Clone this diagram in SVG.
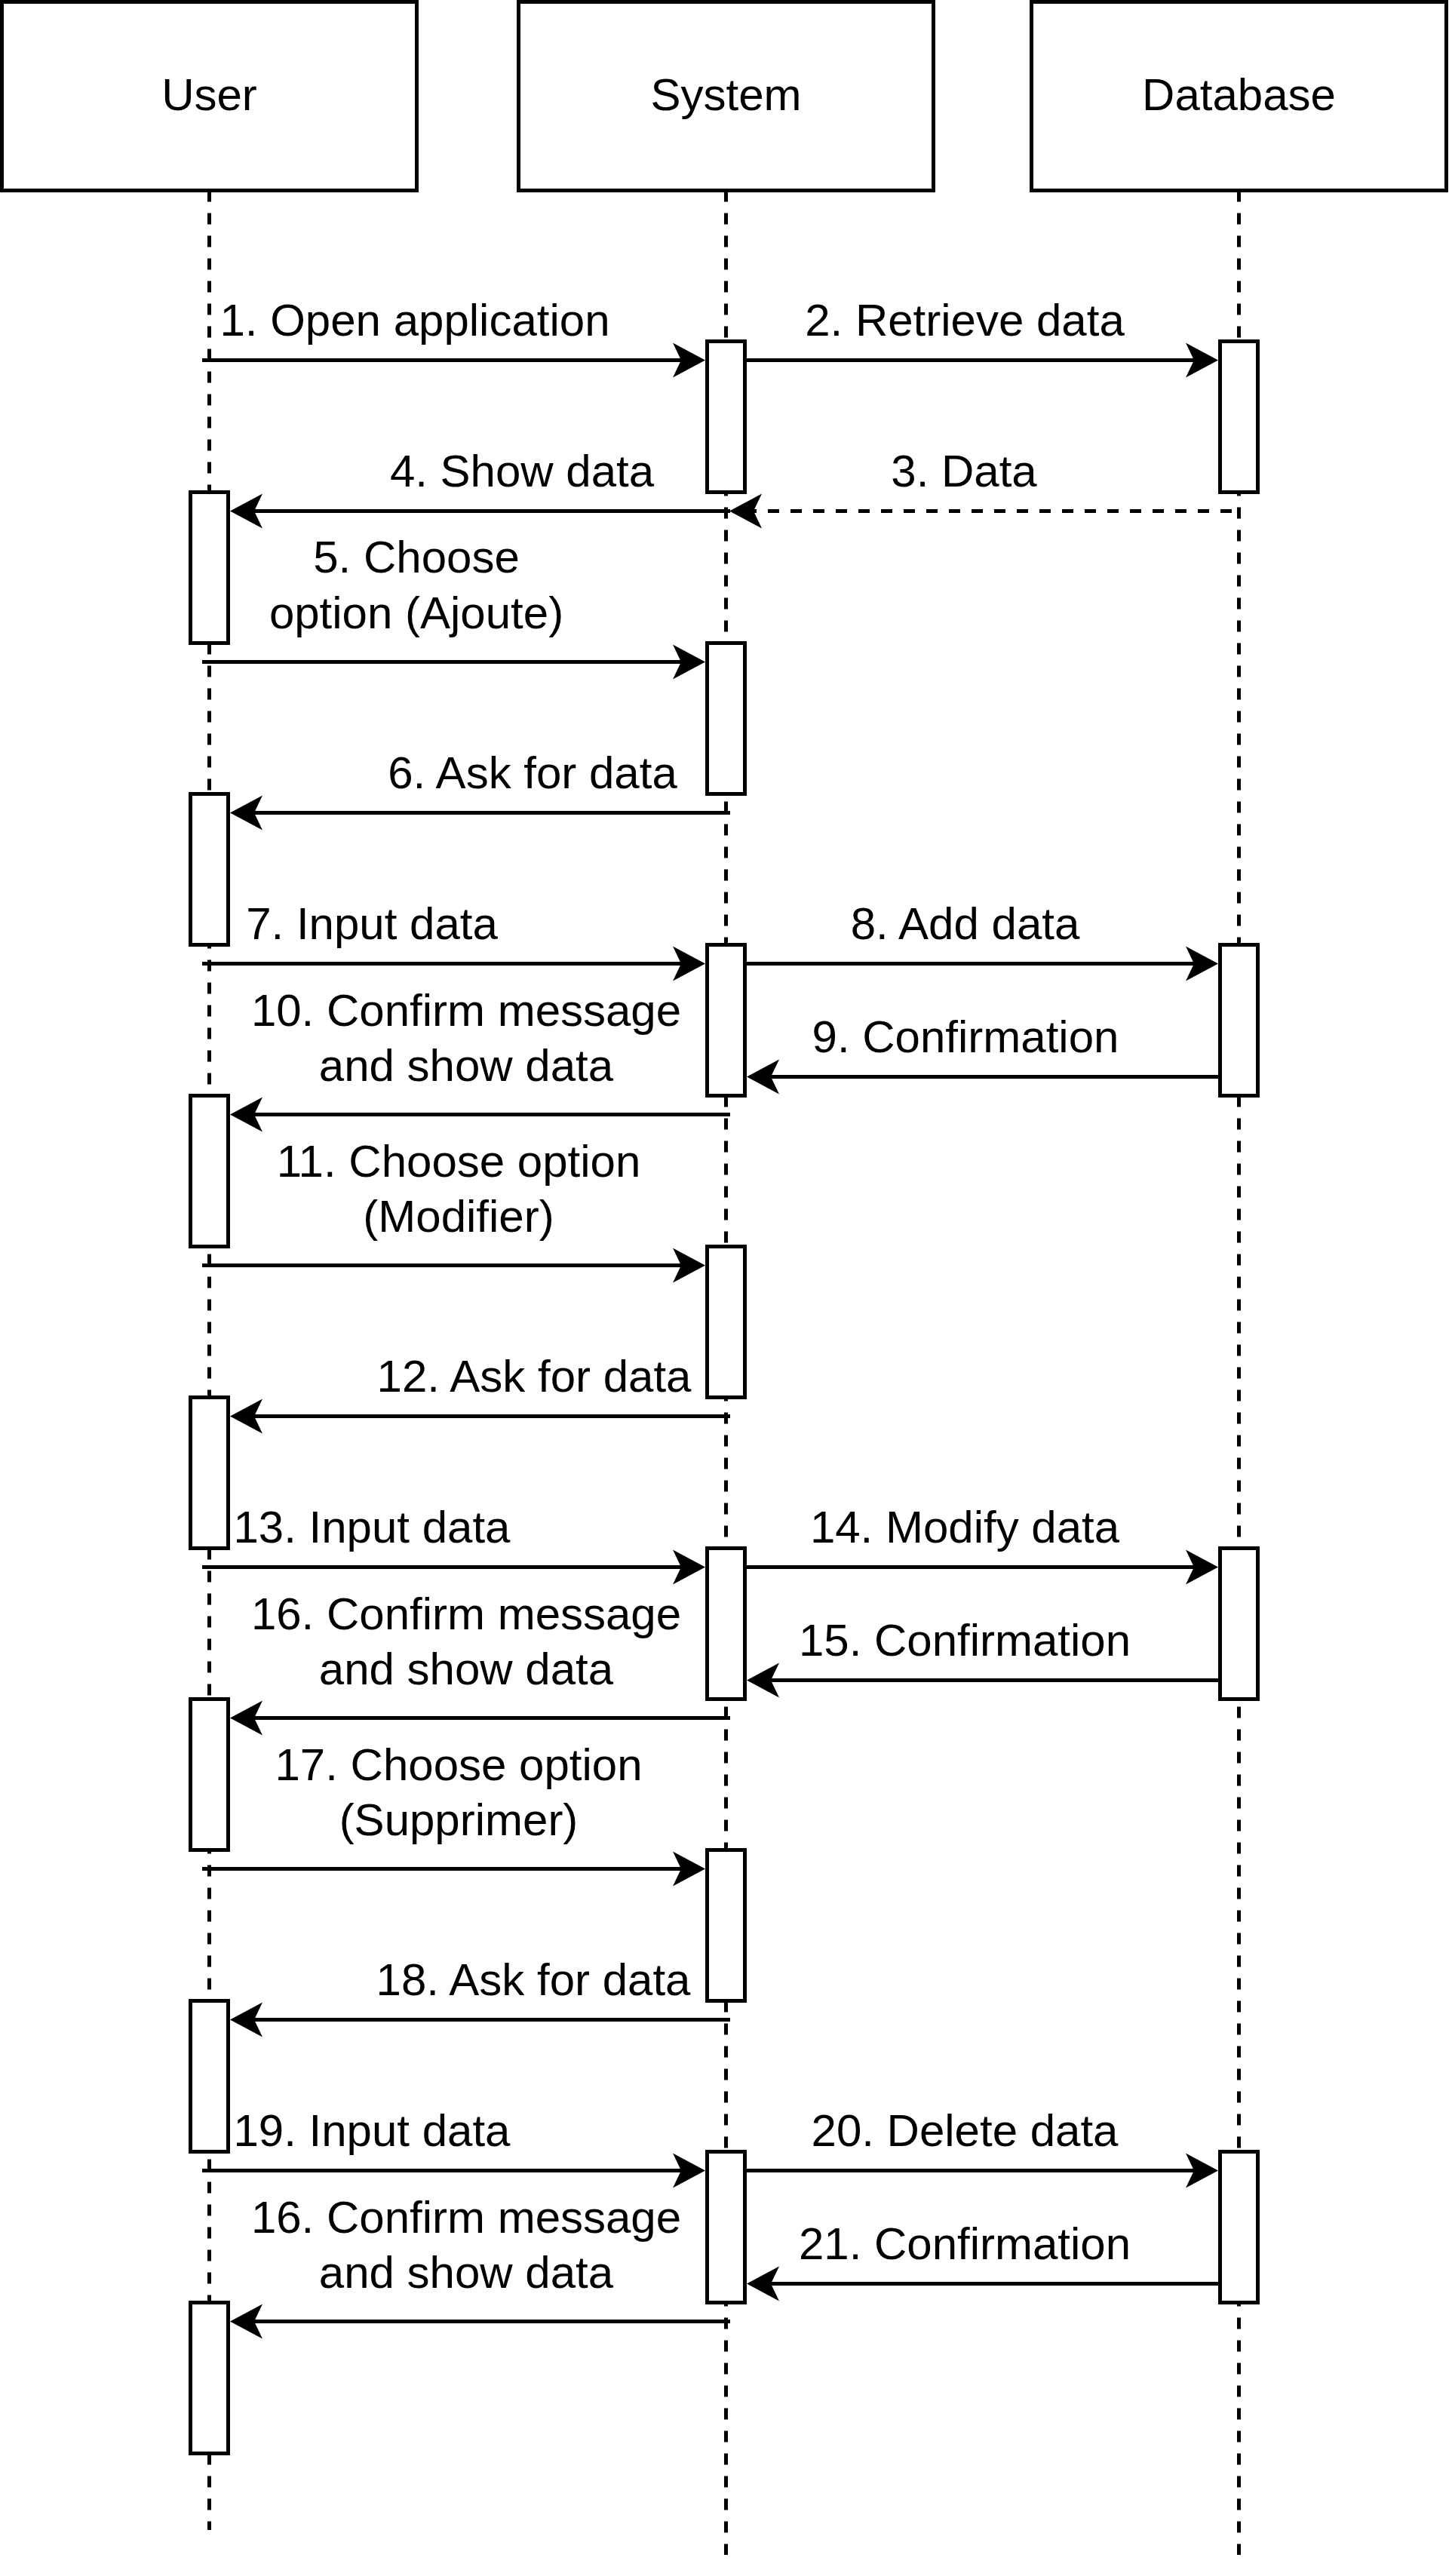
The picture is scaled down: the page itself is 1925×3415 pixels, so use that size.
<svg xmlns="http://www.w3.org/2000/svg" width="1925" height="3415" viewBox="0 0 1925 3415">
<style>
  .box { fill: #ffffff; stroke: #000000; stroke-width: 5; }
  .act { fill: #ffffff; stroke: #000000; stroke-width: 5; }
  .life { fill: none; stroke: #000000; stroke-width: 5; stroke-dasharray: 15 15; }
  .msg { fill: none; stroke: #000000; stroke-width: 5; marker-end: url(#arrow); }
  .ret { fill: none; stroke: #000000; stroke-width: 5; stroke-dasharray: 15 15; marker-end: url(#arrow); }
  text { font-family: "Liberation Sans", Arial, Helvetica, sans-serif; font-size: 60px; fill: #000000; text-anchor: middle; }
</style>
<defs>
  <marker id="arrow" markerUnits="userSpaceOnUse" markerWidth="60" markerHeight="60" refX="0" refY="0" orient="auto" overflow="visible">
    <path d="M 32 0 L -11 -23 L 0 0 L -11 23 Z" fill="#000000" stroke="none"/>
  </marker>
</defs>
<rect width="1925" height="3415" fill="#ffffff"/>

<g id="lifelines">
  <path class="life" d="M 277.5 252.5 V 3354"/>
  <path class="life" d="M 962.5 252.5 V 3387"/>
  <path class="life" d="M 1642.5 252.5 V 3387"/>
</g>

<g id="user">
  <rect class="box" x="2.5" y="2.5" width="550" height="250"/>
  <text x="277.5" y="146">User</text>
</g>
<g id="system">
  <rect class="box" x="687.5" y="2.5" width="550" height="250"/>
  <text x="962.5" y="146">System</text>
</g>
<g id="database">
  <rect class="box" x="1367.5" y="2.5" width="550" height="250"/>
  <text x="1642.5" y="146">Database</text>
</g>

<g id="activations-system">
  <rect class="act" x="937.5" y="452.5" width="50" height="200"/>
  <rect class="act" x="937.5" y="852.5" width="50" height="200"/>
  <rect class="act" x="937.5" y="1252.5" width="50" height="200"/>
  <rect class="act" x="937.5" y="1652.5" width="50" height="200"/>
  <rect class="act" x="937.5" y="2052.5" width="50" height="200"/>
  <rect class="act" x="937.5" y="2452.5" width="50" height="200"/>
  <rect class="act" x="937.5" y="2852.5" width="50" height="200"/>
</g>
<g id="activations-database">
  <rect class="act" x="1617.5" y="452.5" width="50" height="200"/>
  <rect class="act" x="1617.5" y="1252.5" width="50" height="200"/>
  <rect class="act" x="1617.5" y="2052.5" width="50" height="200"/>
  <rect class="act" x="1617.5" y="2852.5" width="50" height="200"/>
</g>
<g id="activations-user">
  <rect class="act" x="252.5" y="652.5" width="50" height="200"/>
  <rect class="act" x="252.5" y="1052.5" width="50" height="200"/>
  <rect class="act" x="252.5" y="1452.5" width="50" height="200"/>
  <rect class="act" x="252.5" y="1852.5" width="50" height="200"/>
  <rect class="act" x="252.5" y="2252.5" width="50" height="200"/>
  <rect class="act" x="252.5" y="2652.5" width="50" height="200"/>
  <rect class="act" x="252.5" y="3052.5" width="50" height="200"/>
</g>

<g id="connectors">
  <!-- User to System -->
  <path class="msg" d="M 268 477.5 H 903"/>
  <path class="msg" d="M 268 877.5 H 903"/>
  <path class="msg" d="M 268 1277.5 H 903"/>
  <path class="msg" d="M 268 1677.5 H 903"/>
  <path class="msg" d="M 268 2077.5 H 903"/>
  <path class="msg" d="M 268 2477.5 H 903"/>
  <path class="msg" d="M 268 2877.5 H 903"/>
  <!-- System to Database -->
  <path class="msg" d="M 987.5 477.5 H 1583"/>
  <path class="msg" d="M 987.5 1277.5 H 1583"/>
  <path class="msg" d="M 987.5 2077.5 H 1583"/>
  <path class="msg" d="M 987.5 2877.5 H 1583"/>
  <!-- Database to System -->
  <path class="ret" d="M 1633 677.5 H 999"/>
  <path class="msg" d="M 1617.5 1427.5 H 1022"/>
  <path class="msg" d="M 1617.5 2227.5 H 1022"/>
  <path class="msg" d="M 1617.5 3027.5 H 1022"/>
  <!-- System to User -->
  <path class="msg" d="M 968 677.5 H 337"/>
  <path class="msg" d="M 968 1077.5 H 337"/>
  <path class="msg" d="M 968 1477.5 H 337"/>
  <path class="msg" d="M 968 1877.5 H 337"/>
  <path class="msg" d="M 968 2277.5 H 337"/>
  <path class="msg" d="M 968 2677.5 H 337"/>
  <path class="msg" d="M 968 3077.5 H 337"/>
</g>

<g id="labels">
  <text x="550" y="444.5">1. Open application</text>
  <text x="1279" y="444.5">2. Retrieve data</text>
  <text x="1278" y="644.5">3. Data</text>
  <text x="692" y="644.5">4. Show data</text>
  <text x="552" y="759">5. Choose</text>
  <text x="552" y="833">option (Ajoute)</text>
  <text x="706" y="1044.5">6. Ask for data</text>
  <text x="493" y="1244.5">7. Input data</text>
  <text x="1279.5" y="1244.5">8. Add data</text>
  <text x="1280" y="1394.5">9. Confirmation</text>
  <text x="618" y="1359.5">10. Confirm message</text>
  <text x="618" y="1433">and show data</text>
  <text x="608" y="1559.5">11. Choose option</text>
  <text x="608" y="1633">(Modifier)</text>
  <text x="708" y="1844.5">12. Ask for data</text>
  <text x="493" y="2044.5">13. Input data</text>
  <text x="1279" y="2044.5">14. Modify data</text>
  <text x="1279" y="2194.5">15. Confirmation</text>
  <text x="618" y="2159.5">16. Confirm message</text>
  <text x="618" y="2233">and show data</text>
  <text x="608" y="2359.5">17. Choose option</text>
  <text x="608" y="2433">(Supprimer)</text>
  <text x="707" y="2644.5">18. Ask for data</text>
  <text x="493" y="2844.5">19. Input data</text>
  <text x="1279" y="2844.5">20. Delete data</text>
  <text x="1279" y="2994.5">21. Confirmation</text>
  <text x="618" y="2959.5">16. Confirm message</text>
  <text x="618" y="3033">and show data</text>
</g>
</svg>
